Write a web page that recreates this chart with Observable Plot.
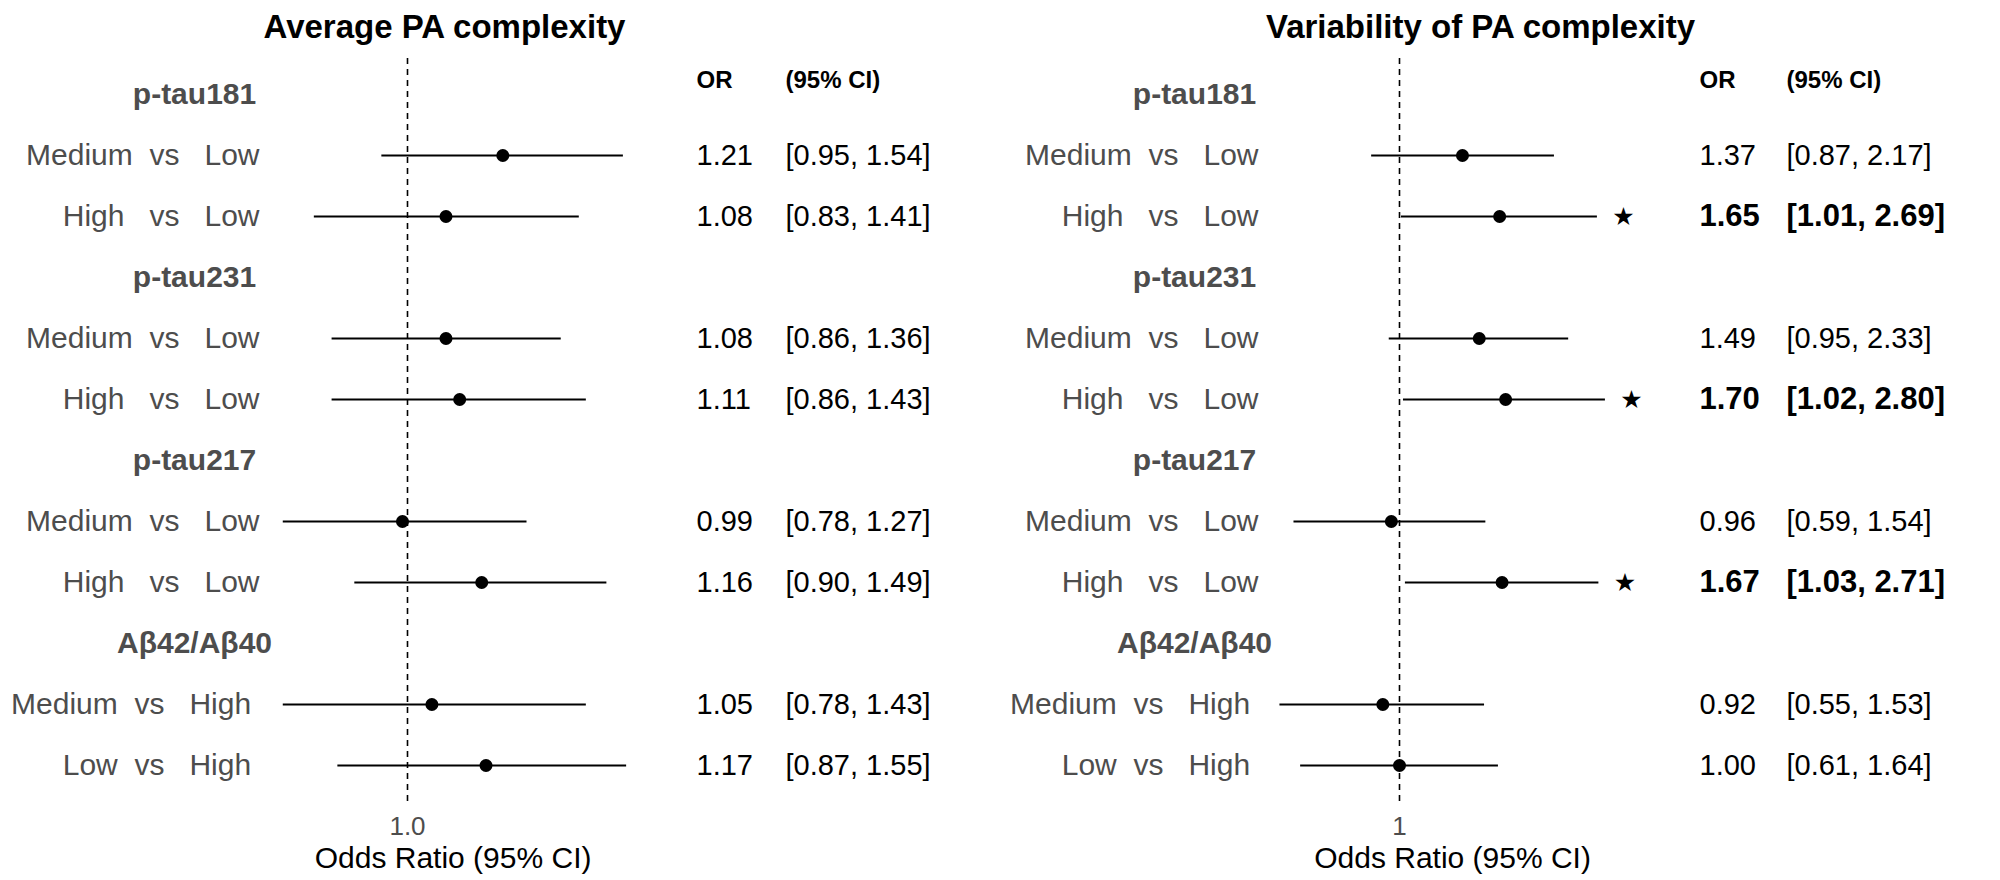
<!DOCTYPE html>
<html>
<head>
<meta charset="utf-8">
<script src="https://cdn.jsdelivr.net/npm/d3@7"></script>
<script src="https://cdn.jsdelivr.net/npm/@observablehq/plot@0.6"></script>
<style>
  html, body { margin: 0; padding: 0; background: #fff; }
  #wrap { display: flex; width: 2000px; height: 880px; }
  #wrap svg { display: block; }
  #wrap text { white-space: pre; }
</style>
</head>
<body>
<div id="wrap"></div>
<script>
// ---- data ----
const groups = ["p-tau181", "p-tau231", "p-tau217", "Aβ42/Aβ40"];
const comparisonLabels = [
  "Medium  vs   Low", "High   vs   Low",
  "Medium  vs   Low", "High   vs   Low",
  "Medium  vs   Low", "High   vs   Low",
  "Medium  vs   High ", "Low  vs   High "
];
const avgOR = [1.21, 1.08, 1.08, 1.11, 0.99, 1.16, 1.05, 1.17];
const avgLo = [0.95, 0.83, 0.86, 0.86, 0.78, 0.90, 0.78, 0.87];
const avgHi = [1.54, 1.41, 1.36, 1.43, 1.27, 1.49, 1.43, 1.55];
const varOR = [1.37, 1.65, 1.49, 1.70, 0.96, 1.67, 0.92, 1.00];
const varLo = [0.87, 1.01, 0.95, 1.02, 0.59, 1.03, 0.55, 0.61];
const varHi = [2.17, 2.69, 2.33, 2.80, 1.54, 2.71, 1.53, 1.64];
const titles = ["Average PA complexity", "Variability of PA complexity"];
const xLabel = "Odds Ratio (95% CI)";
const tableHeaders = ["OR", "(95% CI)"];

const FONT = "'Liberation Sans', Arial, Helvetica, sans-serif";
const GREY = "#4d4d4d";

function panel(cfg) {
  const est = cfg.or.map((v, i) => ({
    row: Math.floor(i / 2) * 3 + 1 + (i % 2),
    or: v, lo: cfg.lo[i], hi: cfg.hi[i], label: comparisonLabels[i]
  }));
  const sig = est.filter(d => d.lo > 1);
  const plain = est.filter(d => !(d.lo > 1));
  const heads = groups.map((g, i) => ({row: i * 3, label: g}));
  const range = cfg.domain.map(v => cfg.center + cfg.k * Math.log(v));
  const ciText = d => `[${d.lo.toFixed(2)}, ${d.hi.toFixed(2)}]`;
  const orText = d => d.or.toFixed(2);
  return Plot.plot({
    width: 1000, height: 880,
    marginTop: 58, marginBottom: 78, marginLeft: 0, marginRight: 0,
    style: `font-family: ${FONT}; background: white; white-space: pre;`,
    x: {type: "log", domain: cfg.domain, range, axis: null},
    y: {type: "point", domain: d3.range(12), range: [93, 766], padding: 0, axis: null},
    marks: [
      Plot.ruleX([1], {stroke: "black", strokeWidth: 1.6, strokeDasharray: "6,5"}),
      Plot.ruleY(est, {y: "row", x1: "lo", x2: "hi", stroke: "black", strokeWidth: 2}),
      Plot.dot(est, {x: "or", y: "row", r: 6.5, fill: "black", stroke: "none"}),
      Plot.text(sig, {x: "hi", y: "row", text: () => "★", dx: 26, fontSize: 25, fill: "black", fontFamily: "DejaVu Sans"}),
      Plot.text(heads, {y: "row", text: "label", frameAnchor: "left", dx: 194, textAnchor: "middle",
        lineAnchor: "middle", fontWeight: "bold", fontSize: 30, fill: GREY}),
      Plot.text(est, {y: "row", text: "label", frameAnchor: "left", dx: cfg.labelRight, textAnchor: "end",
        lineAnchor: "middle", fontSize: 30, fill: GREY}),
      Plot.text([tableHeaders[0]], {text: d => d, frameAnchor: "top-left", dx: cfg.orX, dy: 22,
        textAnchor: "start", lineAnchor: "middle", fontWeight: "bold", fontSize: 24, fill: "black"}),
      Plot.text([tableHeaders[1]], {text: d => d, frameAnchor: "top-left", dx: cfg.ciX, dy: 22,
        textAnchor: "start", lineAnchor: "middle", fontWeight: "bold", fontSize: 24, fill: "black"}),
      Plot.text(plain, {y: "row", text: orText, frameAnchor: "left", dx: cfg.orX, textAnchor: "start",
        lineAnchor: "middle", fontSize: 29, fill: "black"}),
      Plot.text(plain, {y: "row", text: ciText, frameAnchor: "left", dx: cfg.ciX, textAnchor: "start",
        lineAnchor: "middle", fontSize: 29, fill: "black"}),
      Plot.text(sig, {y: "row", text: orText, frameAnchor: "left", dx: cfg.orX, textAnchor: "start",
        lineAnchor: "middle", fontSize: 31, fontWeight: "bold", fill: "black"}),
      Plot.text(sig, {y: "row", text: ciText, frameAnchor: "left", dx: cfg.ciX, textAnchor: "start",
        lineAnchor: "middle", fontSize: 31, fontWeight: "bold", fill: "black"}),
      Plot.axisX({ticks: [1], tickFormat: cfg.tickFormat, tickSize: 0, tickPadding: 14, fontSize: 26, fill: GREY, label: null}),
      Plot.text([xLabel], {text: d => d, frameAnchor: "bottom-left", dx: (range[0] + range[1]) / 2, dy: 56,
        textAnchor: "middle", lineAnchor: "middle", fontSize: 30, fill: "black"}),
      Plot.text([cfg.title], {text: d => d, frameAnchor: "top-left", dx: cfg.titleX, dy: -31,
        textAnchor: "middle", lineAnchor: "middle", fontWeight: "bold", fontSize: 33, fill: "black"})
    ]
  });
}

const wrap = document.getElementById("wrap");
wrap.appendChild(panel({
  or: avgOR, lo: avgLo, hi: avgHi, title: titles[0],
  domain: [0.75, 1.6], center: 407, k: 500,
  tickFormat: d3.format(".1f"), labelRight: 259, orX: 696, ciX: 785, titleX: 444
}));
wrap.appendChild(panel({
  or: varOR, lo: varLo, hi: varHi, title: titles[1],
  domain: [0.5, 3.4], center: 399, k: 200,
  tickFormat: d => String(d), labelRight: 258, orX: 699, ciX: 786, titleX: 480
}));
</script>
</body>
</html>
